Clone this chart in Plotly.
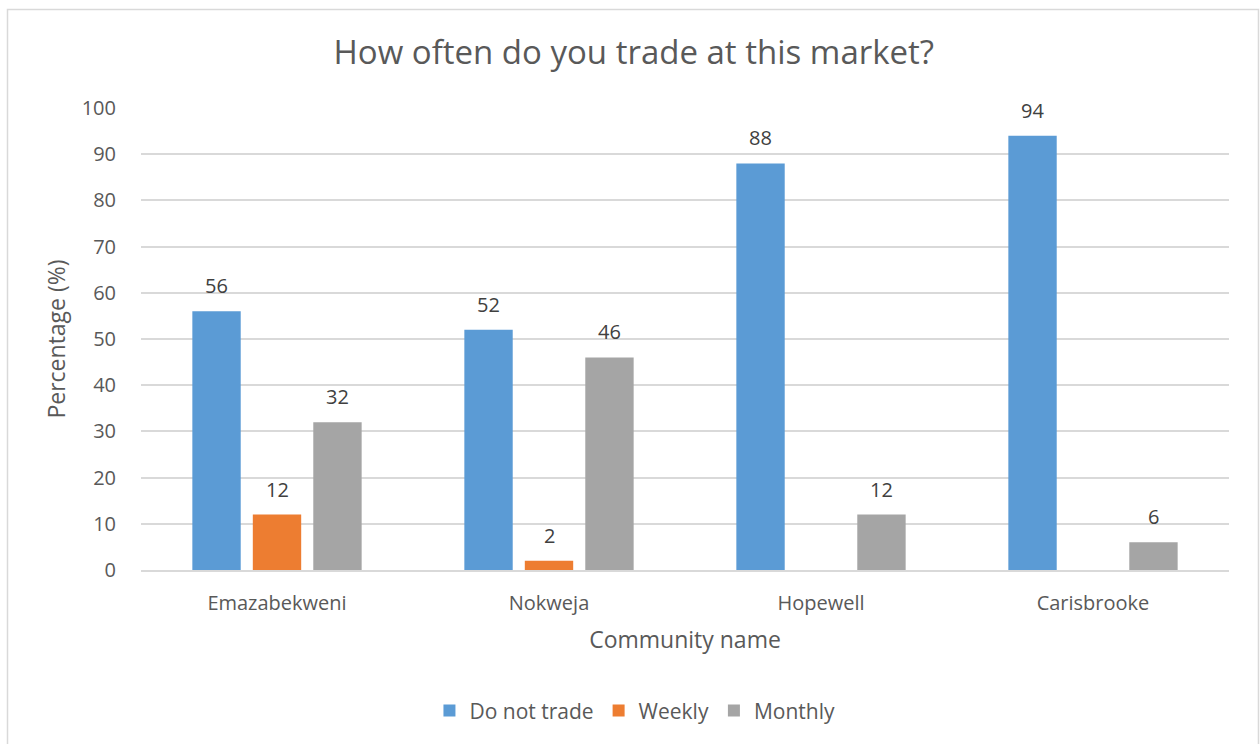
import plotly.graph_objects as go

# Survey responses by community (percent of respondents)
communities = ["Emazabekweni", "Nokweja", "Hopewell", "Carisbrooke"]
do_not_trade = [56, 52, 88, 94]
weekly = [12, 2, None, None]
monthly = [32, 46, 12, 6]

series_names = ["Do not trade", "Weekly", "Monthly"]
series_values = [do_not_trade, weekly, monthly]
series_colors = ["#5B9BD5", "#ED7D31", "#A5A5A5"]
y_ticks = list(range(0, 101, 10))

FONT = "Open Sans"
TEXT = "#595959"

fig = go.Figure()
for name, vals, color in zip(series_names, series_values, series_colors):
    fig.add_trace(go.Bar(
        name=name, x=communities, y=vals,
        marker=dict(color=color, line=dict(width=0)),
    ))

# Data labels above each bar, shifted to sit over its slot in the group
slot_px = 60.5
for i, vals in enumerate(series_values):
    for cat, v in zip(communities, vals):
        if v is None:
            continue
        fig.add_annotation(
            x=cat, y=v, xref="x", yref="y", text=str(v), showarrow=False,
            xshift=(i - 1) * slot_px, yshift=10, yanchor="bottom",
            font=dict(family=FONT, size=20, color="#404040"),
        )

# Chart-area border
fig.add_shape(type="rect", xref="paper", yref="paper",
              x0=-0.1227, x1=1.0271, y0=-0.42, y1=1.2132,
              line=dict(color="#D9D9D9", width=1.5), fillcolor="rgba(0,0,0,0)",
              layer="below")

fig.update_layout(
    width=1260, height=744,
    margin=dict(l=141, r=31, t=108, b=174),
    paper_bgcolor="white", plot_bgcolor="white",
    barmode="group", bargap=0.333, bargroupgap=0.2,
    title=dict(text="How often do you trade at this market?",
               x=0.503, xanchor="center", y=0.930, yanchor="middle",
               font=dict(family=FONT, size=33, color=TEXT)),
    font=dict(family=FONT, color=TEXT),
    legend=dict(orientation="h", x=0.454, xanchor="center",
                y=-0.305, yanchor="middle",
                font=dict(family=FONT, size=21, color=TEXT),
                itemwidth=30, traceorder="normal"),
    xaxis=dict(
        title=dict(text="Community name", font=dict(family=FONT, size=23, color=TEXT),
                   standoff=17),
        tickfont=dict(family=FONT, size=20, color=TEXT),
        showline=True, linecolor="#D9D9D9", linewidth=1.5,
        showgrid=False, ticks="", ticklabelstandoff=14,
    ),
    yaxis=dict(
        title=dict(text="Percentage (%)", font=dict(family=FONT, size=23, color=TEXT),
                   standoff=9),
        range=[0, 100], tickvals=y_ticks,
        tickfont=dict(family=FONT, size=20, color=TEXT),
        showgrid=True, gridcolor="#D9D9D9", gridwidth=1.5,
        zeroline=False, ticks="", ticklabelstandoff=24,
    ),
)

fig.write_html("out.html")
